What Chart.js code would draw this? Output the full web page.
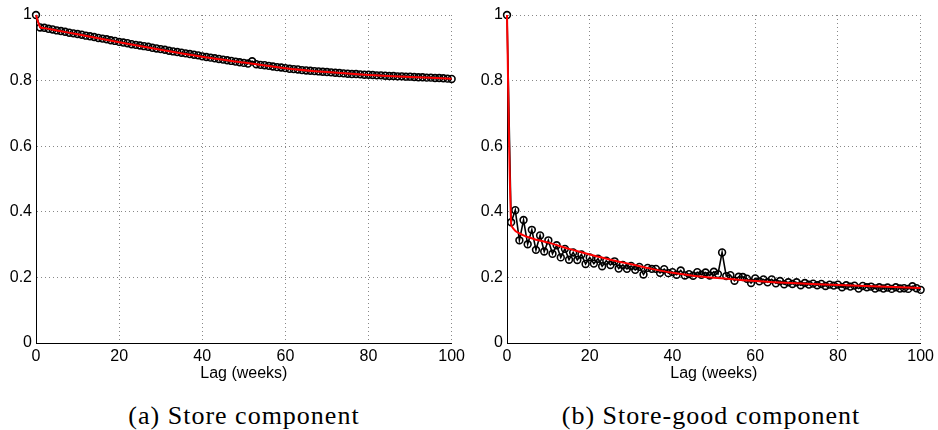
<!DOCTYPE html>
<html>
<head>
<meta charset="utf-8">
<script src="https://cdn.jsdelivr.net/npm/chart.js@4.4.1/dist/chart.umd.min.js"></script>
<style>
body{margin:0;background:#fff;width:938px;height:430px;position:relative;overflow:hidden}
canvas{position:absolute;top:0}
.cap{position:absolute;top:403px;width:400px;text-align:center;white-space:nowrap;
  font-family:"Liberation Serif",serif;font-size:26px;line-height:25px;letter-spacing:1px;color:#000}
</style>
</head>
<body>
<canvas id="storeChart" width="469" height="390" style="left:0"></canvas>
<canvas id="goodChart" width="469" height="390" style="left:469px"></canvas>
<div class="cap" style="left:44px">(a) Store component</div>
<div class="cap" style="left:511px">(b) Store-good component</div>
<script>
// lags 0..100 (weeks)
var lags = [];
for (var i = 0; i <= 100; i++) lags.push(i);

var xTicks = [0, 20, 40, 60, 80, 100];
var yTicks = [0, 0.2, 0.4, 0.6, 0.8, 1];
var xTitle = "Lag (weeks)";

// (a) store component, autocorrelation per lag
var storeAcf = [1.000,0.962,0.961,0.958,0.956,0.953,0.951,0.949,0.946,0.944,
  0.942,0.940,0.937,0.935,0.933,0.930,0.928,0.926,0.923,0.921,
  0.918,0.916,0.914,0.911,0.909,0.907,0.905,0.903,0.900,0.898,
  0.896,0.894,0.891,0.889,0.887,0.885,0.883,0.881,0.879,0.877,
  0.874,0.872,0.870,0.868,0.866,0.864,0.862,0.860,0.858,0.856,
  0.854,0.852,0.859,0.850,0.848,0.847,0.845,0.843,0.841,0.840,
  0.838,0.836,0.835,0.834,0.832,0.831,0.830,0.829,0.828,0.827,
  0.826,0.825,0.824,0.823,0.822,0.821,0.820,0.820,0.819,0.818,
  0.818,0.817,0.816,0.816,0.815,0.814,0.814,0.813,0.813,0.812,
  0.812,0.811,0.810,0.810,0.809,0.809,0.808,0.808,0.807,0.806,
  0.805];
// fitted curve (red)
var storeFitLags = [0,1,2,5,10,20,30,40,50,60,70,80,90,100];
var storeFit = [1.000,0.963,0.960,0.953,0.941,0.917,0.894,0.873,0.855,0.838,0.826,0.817,0.811,0.806];

// (b) store-good component
var goodAcf = [1.000,0.368,0.405,0.313,0.375,0.301,0.345,0.284,0.328,0.279,
  0.313,0.272,0.298,0.261,0.287,0.254,0.276,0.253,0.270,0.241,
  0.261,0.242,0.257,0.234,0.251,0.238,0.249,0.227,0.238,0.226,
  0.235,0.223,0.232,0.209,0.229,0.226,0.226,0.214,0.225,0.213,
  0.216,0.208,0.221,0.206,0.210,0.205,0.216,0.208,0.215,0.206,
  0.217,0.210,0.276,0.204,0.207,0.190,0.202,0.201,0.196,0.183,
  0.197,0.188,0.194,0.185,0.194,0.182,0.189,0.179,0.185,0.180,
  0.185,0.176,0.183,0.178,0.181,0.176,0.180,0.174,0.178,0.175,
  0.178,0.170,0.176,0.172,0.175,0.166,0.174,0.170,0.172,0.166,
  0.170,0.166,0.169,0.165,0.170,0.166,0.167,0.165,0.173,0.167,
  0.162];
var goodFitLags = [0,1,2,3,4,5,7,10,15,20,25,30,35,40,45,50,60,70,80,90,100];
var goodFit = [1.000,0.362,0.342,0.334,0.328,0.323,0.315,0.306,0.287,0.270,0.254,0.240,0.226,0.214,0.205,0.199,0.189,0.182,0.177,0.172,0.168];

function pts(xs, ys) {
  var out = [];
  for (var i = 0; i < ys.length; i++) out.push({x: xs[i], y: ys[i]});
  return out;
}

var font = {family: "'Liberation Sans', Arial, sans-serif", size: 16};

function makePanel(id, acf, fitLags, fit, axisW, padRight) {
  var ctx = document.getElementById(id).getContext("2d");
  return new Chart(ctx, {
    type: 'line',
    data: {
      datasets: [
        {
          data: pts(fitLags, fit),
          borderColor: "#ff0000",
          borderWidth: 2,
          pointRadius: 0,
          tension: 0.3,
          clip: false,
          order: 0
        },
        {
          data: pts(lags, acf),
          borderColor: "#000",
          borderWidth: 1.6,
          pointRadius: 3.4,
          pointBorderWidth: 1.6,
          pointBorderColor: "#000",
          pointBackgroundColor: "rgba(0,0,0,0)",
          tension: 0,
          clip: false,
          order: 1
        }
      ]
    },
    options: {
      responsive: false,
      animation: false,
      layout: {padding: {top: 15, right: padRight, left: 0, bottom: 0}},
      plugins: {legend: {display: false}, tooltip: {enabled: false}},
      scales: {
        x: {
          type: 'linear', min: 0, max: 100,
          afterBuildTicks: function (s) { s.ticks = xTicks.map(function (v) { return {value: v}; }); },
          afterFit: function (s) { s.height = 47; },
          ticks: {font: font, color: "#000", padding: 4, maxRotation: 0, autoSkip: false},
          grid: {color: "#888", drawTicks: false},
          border: {display: true, color: "#000", width: 1, dash: [1, 3]},
          title: {display: true, text: xTitle, font: font, color: "#000", padding: {top: 0, bottom: 7}}
        },
        y: {
          min: 0, max: 1,
          afterBuildTicks: function (s) { s.ticks = yTicks.map(function (v) { return {value: v}; }); },
          afterFit: function (s) { s.width = axisW; },
          ticks: {font: font, color: "#000", padding: 4, callback: function (v) { return String(v); }},
          grid: {color: "#888", drawTicks: false},
          border: {display: true, color: "#000", width: 1, dash: [1, 3]}
        }
      }
    }
  });
}

makePanel("storeChart", storeAcf, storeFitLags, storeFit, 36, 16);
makePanel("goodChart", goodAcf, goodFitLags, goodFit, 38, 14);
</script>
</body>
</html>
